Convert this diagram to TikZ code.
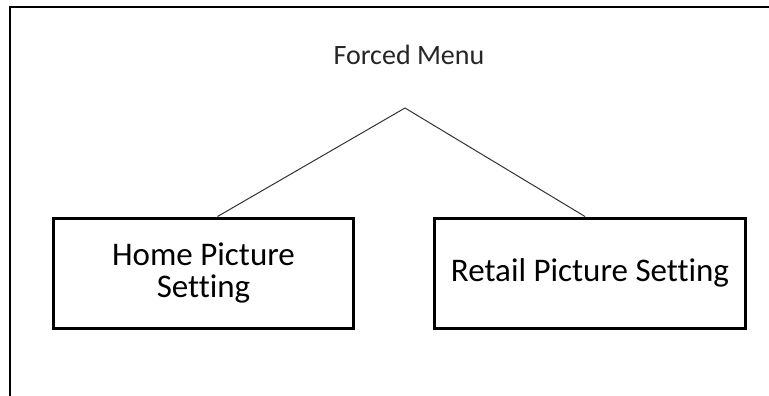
\documentclass[tikz,border=0pt]{standalone}
\usepackage{fontspec}
\setmainfont[Ligatures=NoCommon]{Carlito}

\begin{document}
\begin{tikzpicture}[x=1pt,y=-1pt,
  menubox/.style={draw,line width=3pt,minimum width=300pt,minimum height=110pt,inner sep=0pt,align=center,font=\fontsize{33}{32}\selectfont},
  branch/.style={line width=1pt,black!80}]
\useasboundingbox (0,0) rectangle (769,396);
\draw[line width=2pt] (10,396)--(10,7)--(769,7);

 \node[font=\fontsize{28}{30}\selectfont,anchor=base,black!85] at (409,65) (menu) {Forced Menu};
 \coordinate (apex) at (405,108);

 \node[menubox] at (203.5,273) (home) {Home Picture\\Setting};
 \node[menubox,minimum width=311pt] at (590,273) (retail) {Retail Picture Setting};

 \draw[branch] (apex)--([xshift=14pt]home.north);
 \draw[branch] (apex)--([xshift=-5pt]retail.north);
\end{tikzpicture}
\end{document}
